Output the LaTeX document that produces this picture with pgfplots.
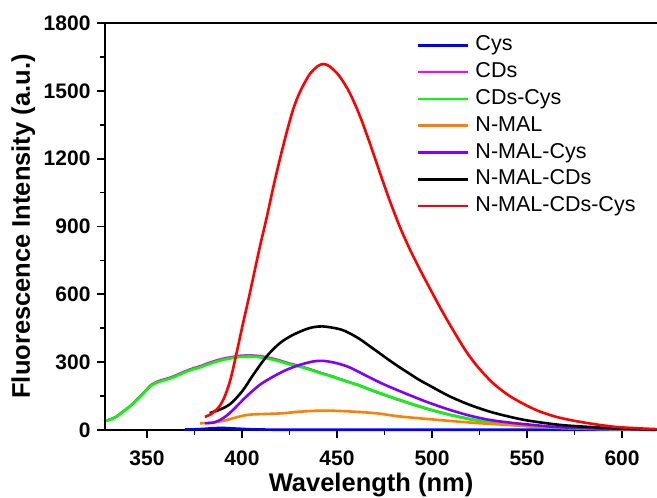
\documentclass[border=0pt]{standalone}
\usepackage{pgfplots}
\pgfplotsset{compat=1.18}
\usepackage{fontspec}
\setmainfont{Liberation Sans}

\definecolor{cysblue}{RGB}{0,0,255}
\definecolor{cdsmag}{RGB}{255,0,255}
\definecolor{cdsgreen}{RGB}{0,255,0}
\definecolor{malorange}{RGB}{255,128,0}
\definecolor{malpurple}{RGB}{128,0,255}
\definecolor{malred}{RGB}{255,0,0}

\begin{document}
\begin{tikzpicture}
\path[use as bounding box] (0,0) rectangle (657pt,498pt);
\begin{axis}[
  at={(105pt,68pt)}, anchor=south west,
  scale only axis, width=552pt, height=407pt,
  xmin=327.9, xmax=618.4, ymin=0, ymax=1800,
  axis x line*=box, axis y line*=left,
  xtick={350,400,...,600}, ytick={0,300,...,1800},
  minor x tick num=1, minor y tick num=1,
  xtick pos=left, ytick pos=left,
  tick align=outside,
  major tick length=8pt, minor tick length=5pt,
  every tick/.style={black, line width=1.8pt},
  axis line style={line width=1.8pt},
  /pgf/number format/assume math mode=true,
  /pgf/number format/1000 sep={},
  ticklabel style={font=\fontsize{21}{25}\selectfont\bfseries},
  xticklabel style={yshift=-9pt},
  yticklabel style={xshift=-3pt},
  xlabel={Wavelength (nm)},
  ylabel={Fluorescence Intensity (a.u.)},
  label style={font=\fontsize{25.5}{30}\selectfont\bfseries},
  xlabel style={at={(axis description cs:0.482,-0.1499)}, anchor=base},
  ylabel style={at={(axis description cs:-0.1359,0.5)}, anchor=base},
  clip=false,
  legend style={draw=none, fill=none, at={(axis description cs:0.565,0.971)},
    anchor=north west, inner sep=0pt, outer sep=0pt,
    font=\fontsize{21.5}{26}\selectfont,
    nodes={inner sep=0pt, text height=16pt, text depth=5pt},
    row sep=5.8pt, column sep=6pt},
  legend cell align=left,
  legend image code/.code={\draw[#1] (0pt,0pt) -- (50pt,0pt);},
  every axis plot/.append style={line width=2.6pt, line join=round, smooth, tension=0.5},
]
% Cys
\addplot[cysblue] coordinates {
 (370,2) (375,3) (380,5) (385,8) (390,9) (395,7) (400,5) (405,3) (412,2)
 (420,1) (450,1) (500,1) (550,1) (618,1)};
\addlegendentry{Cys}
% CDs
\addplot[cdsmag] coordinates {
 (328.5,41) (331,48) (334,60) (337,79) (341,105) (345,137) (348,162)
 (352,198) (356,216) (360,226) (364,237) (368,252) (373,269) (378,282)
 (381.4,293) (386,306) (390,315) (395,323) (399,328) (404,330) (409,327)
 (414,320) (420,307) (425,294) (430.4,283) (436,268) (441,254) (446,241)
 (451,227) (456,213) (462,196) (469,173) (476,152) (483,132) (490,113)
 (499,90) (509,68) (520,48) (530,34) (541,24) (551,17) (568,9) (590,4)
 (618,1)};
\addlegendentry{CDs}
% CDs-Cys
\addplot[cdsgreen] coordinates {
 (328.5,40) (331,47) (334,59) (337,78) (341,104) (345,135) (348,160)
 (352,195) (356,212) (360,222) (364,233) (368,248) (373,265) (378,277)
 (381.4,288) (386,301) (390,310) (395,318) (399,323) (404,325) (409,322)
 (414,315) (420,303) (425,290) (430.4,280) (436,266) (441,252) (446,240)
 (451,226) (456,212) (462,196) (469,174) (476,153) (483,133) (490,113)
 (499,90) (509,68) (520,48) (530,34) (541,24) (551,17) (568,9) (590,4)
 (618,1)};
\addlegendentry{CDs-Cys}
% N-MAL
\addplot[malorange] coordinates {
 (378,30) (383,31) (388,37) (392,44) (395.3,52) (400,62) (404,68)
 (412.9,71) (421.6,74) (430.4,81) (442.6,86) (456.6,82) (470.6,74)
 (482.9,60) (504,44) (525,30) (551,18) (586,7) (618,2)};
\addlegendentry{N-MAL}
% N-MAL-Cys
\addplot[malpurple] coordinates {
 (380.5,30) (385,33) (388.4,44) (392,64) (395.3,89) (402.3,148)
 (409.4,200) (416.4,236) (423.4,266) (430.4,288) (437.4,303) (442.6,306)
 (449.6,296) (456.6,277) (465.4,240) (474.1,204) (483,172) (488,155)
 (493,138) (498.6,120) (509,90) (519.6,64) (530,45) (540.6,33) (551,24)
 (568,12) (595,5) (618,2)};
\addlegendentry{N-MAL-Cys}
% N-MAL-CDs
\addplot[black] coordinates {
 (383,75) (388,89) (392,105) (395.3,126) (400.6,177) (405.9,244)
 (412.9,325) (419.9,384) (426.9,421) (435.6,451) (442.6,458) (451.4,446)
 (456.6,428) (462,402) (467,372) (472,342) (477.6,308) (483,277)
 (488,250) (493,223) (498.6,197) (509,150) (519.6,112) (530,82)
 (540.6,59) (551,41) (568,22) (586,12) (603,5) (618,2)};
\addlegendentry{N-MAL-CDs}
% N-MAL-CDs-Cys
\addplot[malred] coordinates {
 (380.5,58) (384,72) (388,103) (391,150) (394,225) (397,335) (400.5,470)
 (404,600) (409,795) (413,940) (416.5,1075) (420,1200) (423.5,1316)
 (427,1420) (430.5,1495) (435.5,1572) (440,1610) (443,1618) (446,1609)
 (451,1568) (456.5,1494) (462,1390) (467,1275) (472.5,1140) (477.5,1020)
 (483,900) (488,805) (493,720) (498,640) (506.5,508) (517,360) (524,280)
 (532,208) (540,155) (548,116) (556,84) (565,59) (574,42) (583,29)
 (595,15) (607,8) (618,4)};
\addlegendentry{N-MAL-CDs-Cys}
\end{axis}
\end{tikzpicture}
\end{document}
